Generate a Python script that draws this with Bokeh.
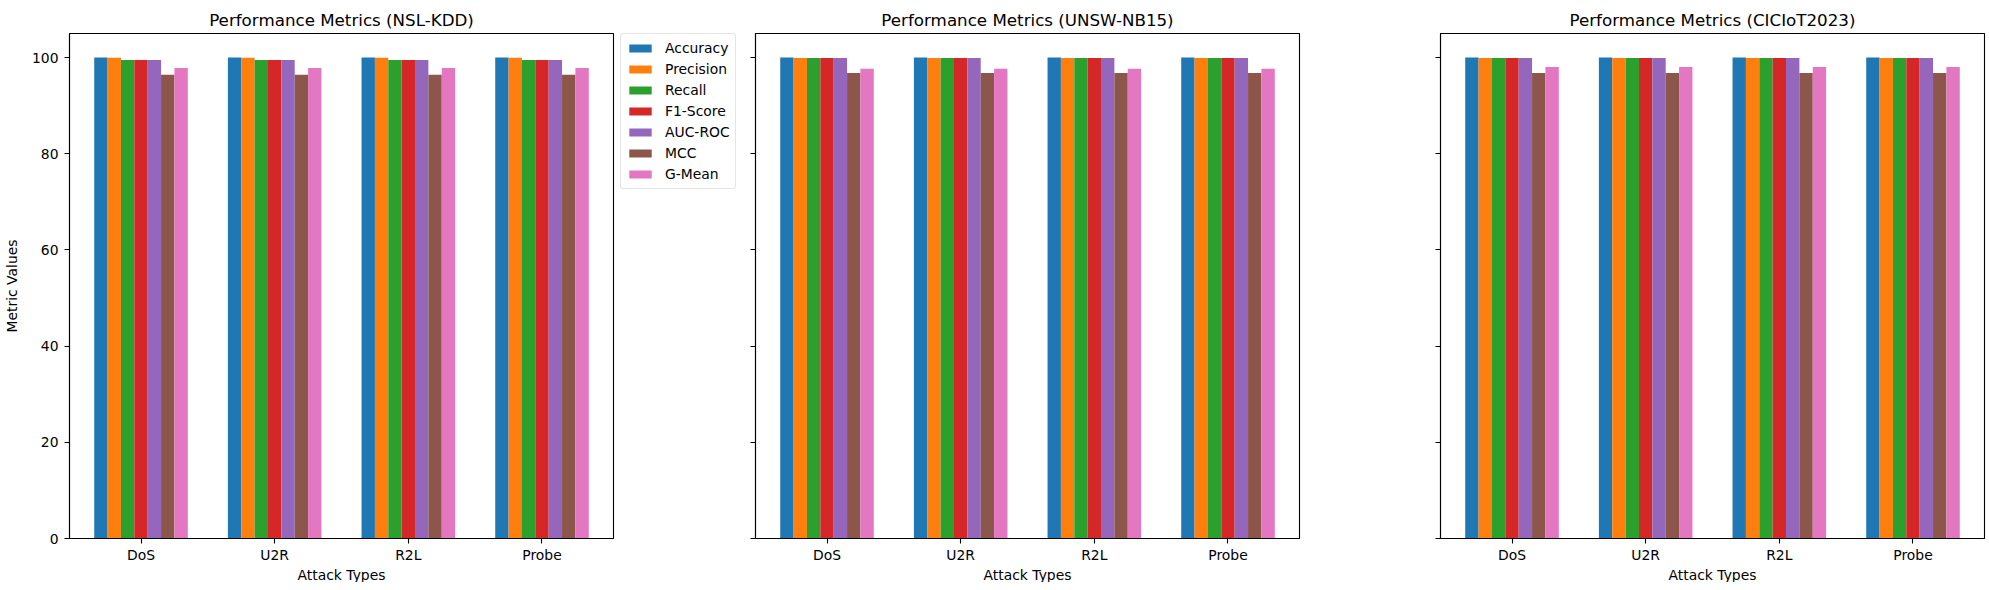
from bokeh.plotting import figure
from bokeh.layouts import row
from bokeh.models import Range1d, FixedTicker, Legend, LegendItem, ColumnDataSource
from bokeh.embed import file_html
from bokeh.resources import INLINE

attack_types = ["DoS", "U2R", "R2L", "Probe"]
metrics = ["Accuracy", "Precision", "Recall", "F1-Score", "AUC-ROC", "MCC", "G-Mean"]
colors = ["#1f77b4", "#ff7f0e", "#2ca02c", "#d62728", "#9467bd", "#8c564b", "#e377c2"]
y_ticks = [0, 20, 40, 60, 80, 100]

# rows: metrics, columns: attack types
nsl_kdd_values = [
    [99.99, 99.99, 99.99, 99.99],
    [99.98, 99.98, 99.98, 99.98],
    [99.50, 99.50, 99.50, 99.50],
    [99.50, 99.50, 99.50, 99.50],
    [99.50, 99.50, 99.50, 99.50],
    [96.40, 96.40, 96.40, 96.40],
    [97.85, 97.85, 97.85, 97.85],
]
unsw_nb15_values = [
    [99.99, 99.99, 99.99, 99.99],
    [99.93, 99.93, 99.93, 99.93],
    [99.93, 99.93, 99.93, 99.93],
    [99.93, 99.93, 99.93, 99.93],
    [99.93, 99.93, 99.93, 99.93],
    [96.80, 96.80, 96.80, 96.80],
    [97.65, 97.65, 97.65, 97.65],
]
ciciot2023_values = [
    [99.99, 99.99, 99.99, 99.99],
    [99.93, 99.93, 99.93, 99.93],
    [99.93, 99.93, 99.93, 99.93],
    [99.93, 99.93, 99.93, 99.93],
    [99.93, 99.93, 99.93, 99.93],
    [96.80, 96.80, 96.80, 96.80],
    [98.05, 98.05, 98.05, 98.05],
]

datasets = [("NSL-KDD", nsl_kdd_values), ("UNSW-NB15", unsw_nb15_values), ("CICIoT2023", ciciot2023_values)]

FONT = "DejaVu Sans"
BAR_W = 0.1
FRAME_W, FRAME_H = 544, 505
n = len(metrics)
# (left border, right border) per panel
borders = [(58, 2), (15, 121), (20, 2)]


def bar_sources(vals):
    out = []
    for i in range(n):
        xs = [j + (i - (n - 1) / 2) * BAR_W for j in range(len(attack_types))]
        out.append(ColumnDataSource(dict(x=xs, top=vals[i])))
    return out


figs = []
for k, (name, vals) in enumerate(datasets):
    p = figure(output_backend="svg", toolbar_location=None,
               frame_width=FRAME_W, frame_height=FRAME_H,
               x_range=Range1d(-0.35 - 0.185, len(attack_types) - 1 + 0.35 + 0.185),
               y_range=Range1d(0, 105),
               min_border_left=borders[k][0], min_border_right=borders[k][1],
               min_border_top=0, min_border_bottom=0,
               title=f"Performance Metrics ({name})")
    p.title.align = "center"
    p.title.text_font = FONT
    p.title.text_font_size = "16.7px"
    p.title.text_font_style = "normal"
    p.title.text_color = "#000000"
    p.title.standoff = 8
    p.outline_line_color = "#000000"
    p.outline_line_width = 1.1
    p.outline_line_alpha = 1
    p.xgrid.visible = False
    p.ygrid.visible = False
    p.background_fill_color = "white"
    p.border_fill_color = "white"

    for i, src in enumerate(bar_sources(vals)):
        p.vbar(x="x", top="top", bottom=0, width=BAR_W, source=src,
               fill_color=colors[i], line_color=None)

    p.xaxis.ticker = FixedTicker(ticks=list(range(len(attack_types))))
    p.xaxis.major_label_overrides = {j: a for j, a in enumerate(attack_types)}
    p.xaxis.axis_label = "Attack Types"
    p.yaxis.ticker = FixedTicker(ticks=y_ticks)
    for ax in (p.xaxis[0], p.yaxis[0]):
        ax.axis_line_color = "#000000"
        ax.axis_line_width = 1.1
        ax.major_tick_line_color = "#000000"
        ax.major_tick_line_width = 1.1
        ax.major_tick_out = 5
        ax.major_tick_in = 0
        ax.minor_tick_out = 0
        ax.minor_tick_in = 0
        ax.major_label_text_font = FONT
        ax.major_label_text_font_size = "13.9px"
        ax.major_label_text_color = "#000000"
        ax.axis_label_text_font = FONT
        ax.axis_label_text_font_size = "13.9px"
        ax.axis_label_text_font_style = "normal"
        ax.axis_label_text_color = "#000000"
        ax.major_label_standoff = 3
        ax.axis_label_standoff = 1
    p.yaxis.major_label_standoff = 6
    p.yaxis.axis_label_standoff = 9
    if k == 0:
        p.yaxis.axis_label = "Metric Values"
    else:
        p.yaxis.major_label_overrides = {t: "" for t in y_ticks}
        p.yaxis.major_label_standoff = 0
    figs.append(p)

# legend panel placed between the first and second chart; its renderers carry the
# first chart's data but its range keeps them out of view, so only the legend shows
lf = figure(output_backend="svg", toolbar_location=None,
            width=125, height=400,
            x_range=Range1d(-10, -9), y_range=Range1d(0, 105),
            x_axis_type=None, y_axis_type=None,
            min_border_left=5, min_border_right=0, min_border_top=33, min_border_bottom=0)
lf.outline_line_color = None
lf.background_fill_color = "white"
lf.border_fill_color = "white"
lf.xgrid.visible = False
lf.ygrid.visible = False
items = []
for i, src in enumerate(bar_sources(nsl_kdd_values)):
    r = lf.vbar(x="x", top="top", bottom=0, width=BAR_W, source=src,
                fill_color=colors[i], line_color=None)
    items.append(LegendItem(label=metrics[i], renderers=[r]))
leg = Legend(items=items, location="top_left")
leg.margin = 0
leg.padding = 5
leg.spacing = 3
leg.glyph_width = 28
leg.glyph_height = 10
leg.label_height = 18
leg.label_standoff = 11
leg.label_text_font = FONT
leg.label_text_font_size = "13.9px"
leg.label_text_color = "#000000"
leg.border_line_color = "#cccccc"
leg.border_line_width = 1
leg.border_radius = 3
leg.background_fill_alpha = 0.8
lf.add_layout(leg)

layout = row(figs[0], lf, figs[1], figs[2])
open("out.html", "w").write(file_html(layout, INLINE))
